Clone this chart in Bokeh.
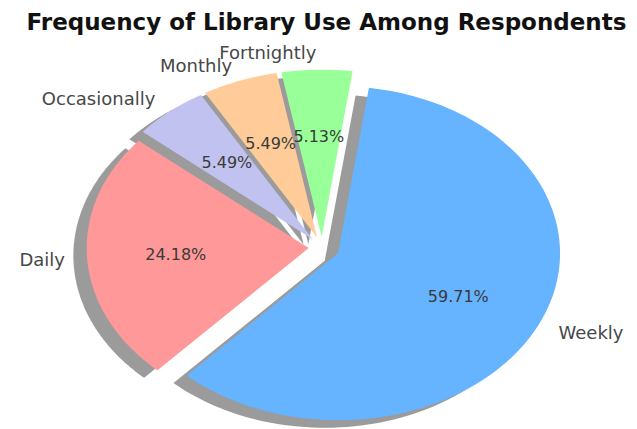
import numpy as np
from bokeh.plotting import figure
from bokeh.models import Range1d, Label, ColumnDataSource
from bokeh.embed import file_html
from bokeh.resources import INLINE
from bokeh.core.properties import value

# ---- data ----
categories = ["Daily", "Weekly", "Fortnightly", "Monthly", "Occasionally"]
shares = [24.18, 59.71, 5.13, 5.49, 5.49]

# ---- styles ----
colors = ["#ff9999", "#66b3ff", "#99ff99", "#ffcc99", "#c2c2f0"]
explode = [0.06, 0.08, 0.065, 0.065, 0.065]
start_angle = 140.0
shadow_dx, shadow_dy = -0.06, -0.045
FONT = "DejaVu Sans"

W, H = 637, 429
cx_px, cy_px = 321.5, 247.0   # pie centre in pixels (from top-left)
rx_px, ry_px = 222.0, 167.0   # unit radius in pixels (x / y)

p = figure(width=W, height=H, output_backend="svg", toolbar_location=None,
           x_range=Range1d(-cx_px / rx_px, (W - cx_px) / rx_px),
           y_range=Range1d(-(H - cy_px) / ry_px, cy_px / ry_px),
           min_border=0, min_border_left=0, min_border_right=0,
           min_border_top=0, min_border_bottom=0)
p.axis.visible = False
p.grid.visible = False
p.outline_line_color = None
p.background_fill_color = "white"
p.border_fill_color = "white"

total = float(sum(shares))
xs, ys, sxs, sys_ = [], [], [], []
lab_l, lab_r, pct = {"x": [], "y": [], "t": []}, {"x": [], "y": [], "t": []}, {"x": [], "y": [], "t": []}
theta1 = start_angle
for cat, s, e in zip(categories, shares, explode):
    theta2 = theta1 + 360.0 * s / total
    mid = np.deg2rad(0.5 * (theta1 + theta2))
    ox, oy = e * np.cos(mid), e * np.sin(mid)
    t = np.deg2rad(np.linspace(theta1, theta2, 120))
    px = np.concatenate([[ox], ox + np.cos(t)])
    py = np.concatenate([[oy], oy + np.sin(t)])
    xs.append(px.tolist()); ys.append(py.tolist())
    sxs.append((px + shadow_dx).tolist()); sys_.append((py + shadow_dy).tolist())
    lx, ly = ox + 1.1 * np.cos(mid), oy + 1.1 * np.sin(mid)
    d = lab_l if lx > 0 else lab_r
    d["x"].append(lx); d["y"].append(ly); d["t"].append(cat)
    pct["x"].append(ox + 0.6 * np.cos(mid)); pct["y"].append(oy + 0.6 * np.sin(mid))
    pct["t"].append(f"{s:.2f}%")
    theta1 = theta2

p.patches(xs="xs", ys="ys", source=ColumnDataSource(dict(xs=sxs, ys=sys_)),
          fill_color="#969696", fill_alpha=0.95, line_color=None)
p.patches(xs="xs", ys="ys", source=ColumnDataSource(dict(xs=xs, ys=ys, c=colors)),
          fill_color="c", line_color=None)

p.text(x="x", y="y", text="t", source=ColumnDataSource(lab_l), text_align="left",
       text_baseline="middle", text_font=value(FONT), text_font_size="18px",
       text_color="#474747")
p.text(x="x", y="y", text="t", source=ColumnDataSource(lab_r), text_align="right",
       text_baseline="middle", text_font=value(FONT), text_font_size="18px",
       text_color="#474747")
p.text(x="x", y="y", text="t", source=ColumnDataSource(pct), text_align="center",
       text_baseline="middle", text_font=value(FONT), text_font_size="16px",
       text_color="#3a3a3a")

title = Label(x=326, y=H - 21, x_units="screen", y_units="screen",
              text="Frequency of Library Use Among Respondents",
              text_font=FONT, text_font_size="23px", text_font_style="bold",
              text_align="center", text_baseline="alphabetic", text_color="#111111")
p.add_layout(title)

open("out.html", "w").write(file_html(p, INLINE))
